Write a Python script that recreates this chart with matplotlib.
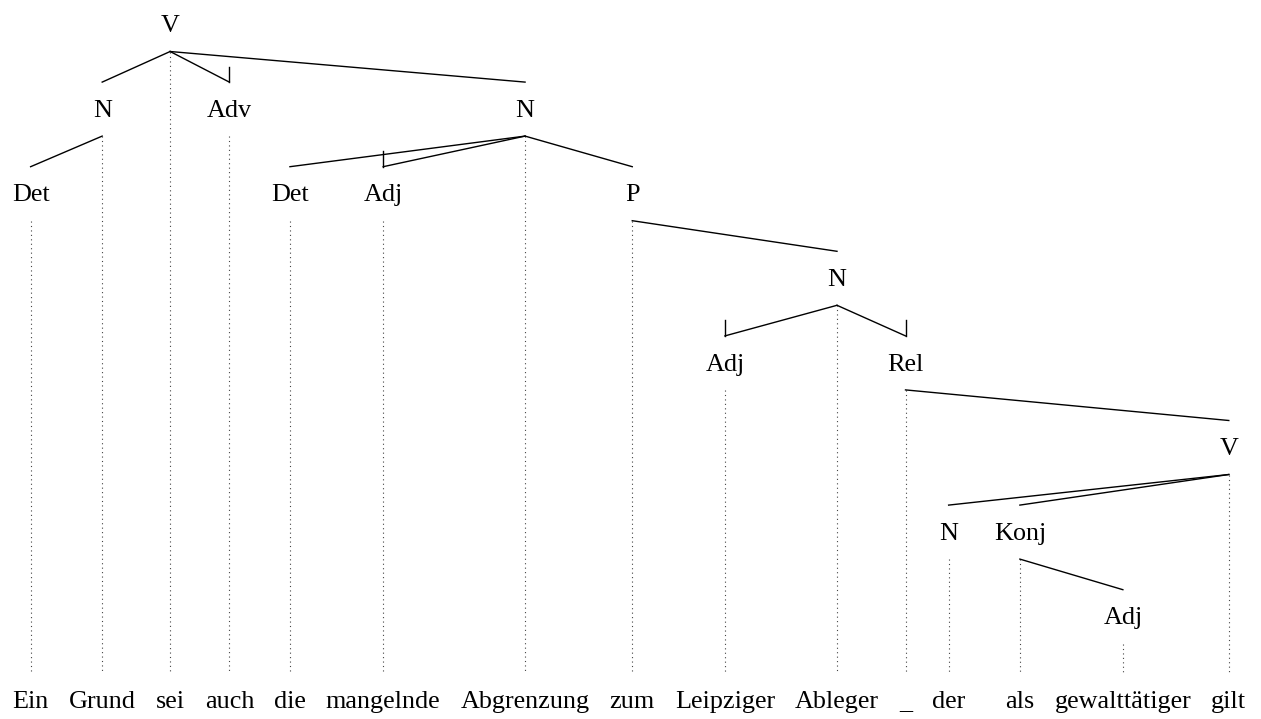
"""Dependenzbaum: Ein Grund sei auch die mangelnde Abgrenzung ..."""

import matplotlib
matplotlib.use('Agg')
import matplotlib.pyplot as plt

plt.rcParams['font.family'] = ['Liberation Serif', 'DejaVu Serif']

# Woerter, Kategorien, Kopf (Index, -1 = Wurzel), Haken (Adjunkt-Markierung)
words = ['Ein', 'Grund', 'sei', 'auch', 'die', 'mangelnde', 'Abgrenzung', 'zum',
         'Leipziger', 'Ableger', '_', 'der', 'als', 'gewalttätiger', 'gilt']
labels = ['Det', 'N', 'V', 'Adv', 'Det', 'Adj', 'N', 'P',
          'Adj', 'N', 'Rel', 'N', 'Konj', 'Adj', 'V']
heads = [1, 2, -1, 2, 6, 6, 2, 6, 9, 7, 9, 14, 14, 12, 10]
hooks = [0, 0, 0, 1, 0, 1, 0, 0, 1, 0, 1, 0, 0, 0, 0]

W, H = 1261, 719
fs = 18.8
gap = 20
left = 12.5
top = 23.5      # Mitte der Wurzel
step = 84.6     # Abstand der Ebenen
cap = 0.33 * fs * 100 / 72   # halbe Versalhoehe in px
word_y = 699
dot_end = 673

fig = plt.figure(figsize=(W / 100, H / 100), dpi=100)
ax = fig.add_axes([0, 0, 1, 1])
ax.set_xlim(0, W)
ax.set_ylim(H, 0)
ax.axis('off')

# Tiefe jedes Knotens
def depth(i):
    d = 0
    while heads[i] != -1:
        i = heads[i]
        d += 1
    return d

levels = [depth(i) for i in range(len(words))]

# Breiten messen
r = fig.canvas.get_renderer()
def width(s):
    t = ax.text(0, 0, s, fontsize=fs)
    w = t.get_window_extent(r).width
    t.remove()
    return w

xs = []
x = left
for i, w in enumerate(words):
    if w == 'als':
        x += gap   # doppelter Abstand vor "als" wie im Original
    cw = width(w)
    xs.append(x + cw / 2)
    x += cw + gap

ys = [top + step * k for k in levels]

for i in range(len(words)):
    ax.text(xs[i], ys[i] + cap, labels[i], fontsize=fs, ha='center', va='baseline')
    ax.text(xs[i], word_y + cap, words[i], fontsize=fs, ha='center', va='baseline')
    ax.plot([xs[i], xs[i]], [ys[i] + 28, dot_end], color='#444444', lw=0.8,
            linestyle=(0, (1, 3)))
    h = heads[i]
    if h >= 0:
        ax.plot([xs[h], xs[i]], [ys[h] + 28, ys[i] - 26], color='black', lw=1.0)
        if hooks[i]:
            ax.plot([xs[i], xs[i]], [ys[i] - 26, ys[i] - 41.5], color='black', lw=1.0)

fig.savefig('out.png', dpi=100)
